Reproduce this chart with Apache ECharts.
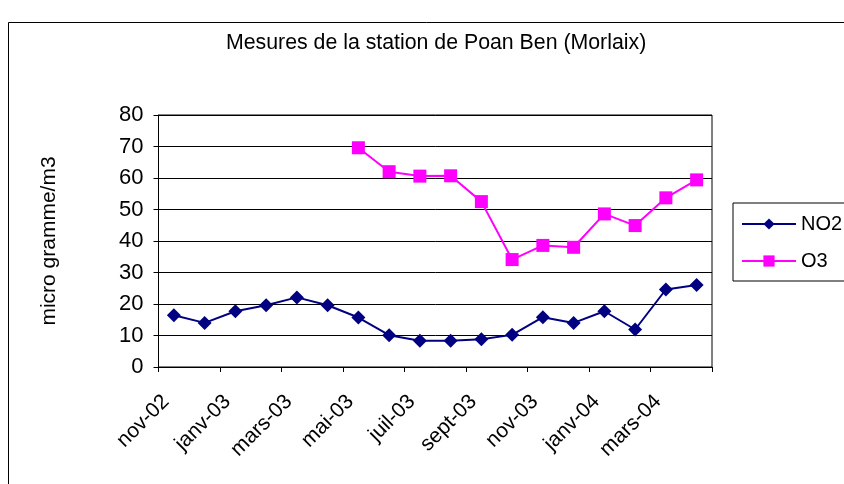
<!DOCTYPE html>
<html>
<head>
<meta charset="utf-8">
<script src="https://cdn.jsdelivr.net/npm/echarts@6/dist/echarts.min.js"></script>
<style>
  html, body { margin: 0; padding: 0; background: #fff; }
  #chart { width: 844px; height: 484px; }
</style>
</head>
<body>
<div id="chart"></div>
<script>
// mois des mesures (nov-02 .. avr-04), un point au milieu de chaque mois
const months = ['nov-02', 'déc-02', 'janv-03', 'févr-03', 'mars-03', 'avr-03', 'mai-03', 'juin-03', 'juil-03',
    'août-03', 'sept-03', 'oct-03', 'nov-03', 'déc-03', 'janv-04', 'févr-04', 'mars-04', 'avr-04'];
const no2 = [16.4, 14.0, 17.7, 19.6, 22.1, 19.6, 15.7, 10.1, 8.3, 8.3, 8.8, 10.2, 15.8, 14.0, 17.7, 11.9, 24.6, 26.0];
const o3 = [null, null, null, null, null, null, 69.6, 62.0, 60.6, 60.7, 52.5, 34.1, 38.6, 38.0, 48.6, 44.9, 53.7, 59.4];
// étiquettes de l'axe des x, tous les deux mois
const tickLabels = ['nov-02', 'janv-03', 'mars-03', 'mai-03', 'juil-03', 'sept-03', 'nov-03', 'janv-04', 'mars-04'];

const font = 'Liberation Sans, Arial, sans-serif';

function toPoints(values) {
    const pts = [];
    values.forEach((v, i) => {
        if (v !== null) pts.push([i + 0.5, v]);
    });
    return pts;
}

const chart = echarts.init(document.getElementById('chart'));

chart.setOption({
    animation: false,
    backgroundColor: '#fff',
    textStyle: { fontFamily: font, color: '#000' },
    graphic: [{
        type: 'rect',
        shape: { x: 8.5, y: 22.5, width: 900, height: 500 },
        style: { fill: 'none', stroke: '#000', lineWidth: 1 },
        silent: true
    }],
    title: {
        text: 'Mesures de la station de Poan Ben (Morlaix)',
        left: 221,
        top: 28,
        textStyle: { fontFamily: font, fontSize: 21.3, fontWeight: 'normal', color: '#000' }
    },
    legend: {
        left: 733,
        top: 203,
        orient: 'vertical',
        itemWidth: 54,
        itemHeight: 14,
        itemGap: 17,
        padding: [11, 60, 10, 8],
        borderColor: '#000',
        borderWidth: 1,
        textStyle: { fontFamily: font, fontSize: 20, color: '#000' },
        data: ['NO2', 'O3']
    },
    grid: {
        left: 158.5,
        right: 132,
        top: 115,
        bottom: 117,
        show: true,
        borderColor: '#000',
        borderWidth: 1
    },
    xAxis: {
        type: 'value',
        min: 0,
        max: months.length,
        interval: 2,
        splitLine: { show: false },
        axisLine: { lineStyle: { color: '#000', width: 1 } },
        axisTick: { show: true, length: 5, lineStyle: { color: '#000' } },
        axisLabel: {
            rotate: 45,
            margin: 24,
            verticalAlign: 'top',
            fontSize: 21,
            color: '#000',
            fontFamily: font,
            formatter: v => tickLabels[v / 2] || ''
        }
    },
    yAxis: {
        type: 'value',
        min: 0,
        max: 80,
        interval: 10,
        name: 'micro gramme/m3',
        nameLocation: 'middle',
        nameGap: 99,
        nameTextStyle: { fontFamily: font, fontSize: 21, color: '#000' },
        axisLine: { show: true, lineStyle: { color: '#000', width: 1 } },
        axisTick: { show: true, length: 5, lineStyle: { color: '#000' } },
        axisLabel: { margin: 15, fontSize: 22, color: '#000', fontFamily: font },
        splitLine: { lineStyle: { color: '#000', width: 1 } }
    },
    series: [
        {
            name: 'NO2',
            type: 'line',
            data: toPoints(no2),
            symbol: 'diamond',
            symbolSize: 14,
            color: '#000080',
            lineStyle: { color: '#000080', width: 2 },
            itemStyle: { color: '#000080' }
        },
        {
            name: 'O3',
            type: 'line',
            data: toPoints(o3),
            symbol: 'rect',
            symbolSize: 13,
            color: '#ff00ff',
            lineStyle: { color: '#ff00ff', width: 2 },
            itemStyle: { color: '#ff00ff' }
        }
    ]
});
</script>
</body>
</html>
